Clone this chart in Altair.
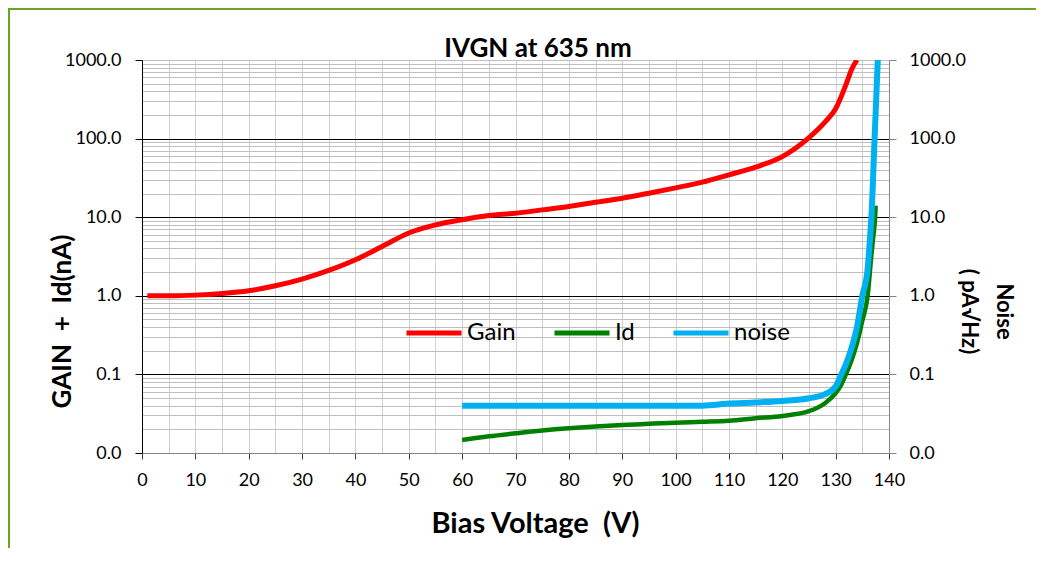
import altair as alt
import pandas as pd

# ---- data ----
gain_v = [1, 5, 10, 15, 20, 25, 30, 35, 40, 45, 50, 55, 60, 65, 70, 75, 80, 85, 90,
          95, 100, 105, 110, 115, 120, 125, 128, 130, 132, 133, 134]
gain = [1.00, 1.00, 1.02, 1.07, 1.16, 1.34, 1.63, 2.1, 2.87, 4.25, 6.3, 8.0, 9.3, 10.5,
        11.2, 12.4, 13.7, 15.5, 17.4, 20.2, 23.6, 27.9, 34.6, 43.4, 59.0, 103.0, 162.0,
        240.0, 500.0, 760.0, 1000.0]

id_v = [60, 65, 70, 75, 80, 85, 90, 95, 100, 105, 110, 115, 120, 125, 128, 130, 131,
        132, 133, 134, 135, 136, 136.7, 137.1, 137.4, 137.5]
id_nA = [0.0146, 0.0163, 0.0178, 0.0193, 0.0206, 0.0217, 0.0227, 0.0235, 0.0243, 0.025,
         0.0258, 0.0277, 0.0296, 0.034, 0.043, 0.0576, 0.073, 0.103, 0.153, 0.25, 0.48,
         1.0, 3.3, 6.0, 10.0, 14.0]

noise_v = [60, 70, 80, 90, 100, 105, 110, 115, 120, 125, 128, 130, 131, 132, 133, 134,
           135, 136, 136.4, 136.7, 137.3, 137.9]
noise = [0.040, 0.040, 0.040, 0.040, 0.040, 0.040, 0.0425, 0.044, 0.046, 0.0497, 0.056,
         0.070, 0.098, 0.139, 0.22, 0.40, 1.0, 2.2, 5.0, 10.0, 100.0, 1000.0]

series_names = ["Gain", "Id", "noise"]
series_colors = ["#ff0000", "#008000", "#00b0f0"]

x_ticks = list(range(0, 141, 5))
y_ticks = sorted(set([round(k * 10.0 ** e, 6) for e in range(-2, 3) for k in range(1, 10)] + [1000.0]))

NB = "\u00a0"
chart_title = "IVGN at 635 nm"
x_title = f"Bias Voltage {NB}(V)"
y_left_title = f"GAIN {NB}+{NB} Id(nA)"
y_right_title = ["Noise", "( pA\u221aHz)"]

FONT = "Lato"

df_gain = pd.DataFrame({"v": gain_v, "y": gain, "s": "Gain"})
df_id = pd.DataFrame({"v": id_v, "y": id_nA, "s": "Id"})
df_noise = pd.DataFrame({"v": noise_v, "y": noise, "s": "noise"})

DEC = "abs(log(datum.value)/LN10 - round(log(datum.value)/LN10)) < 0.000001"

color = alt.Color(
    "s:N",
    scale=alt.Scale(domain=series_names, range=series_colors),
    legend=alt.Legend(
        title=None, orient="none", legendX=262, legendY=243, direction="horizontal",
        symbolType="stroke", symbolSize=3025, symbolStrokeWidth=5,
        labelFont=FONT, labelFontSize=24, labelColor="black", labelOffset=3,
        columnPadding=28, padding=0,
    ),
)

xenc = alt.X(
    "v:Q",
    scale=alt.Scale(domain=[0, 140], nice=False, zero=False),
    axis=alt.Axis(
        values=x_ticks,
        labelExpr="datum.value % 10 === 0 ? datum.value : ''",
        tickOpacity={"condition": {"test": "datum.value % 10 === 0", "value": 1}, "value": 0},
        tickColor="#404040", tickSize=6, labelPadding=12,
        domainColor="#868686", gridColor="#d0d0d0",
        title=x_title, titleFontSize=29, titleFontWeight="bold",
        titleX=393, titleY=70, titleBaseline="middle",
    ),
)

yscale = alt.Scale(type="log", domain=[0.01, 1000], nice=False)

yleft = alt.Y(
    "y:Q",
    scale=yscale,
    axis=alt.Axis(
        values=y_ticks,
        labelExpr=f"({DEC}) ? format(datum.value, '.1f') : ''",
        tickOpacity={"condition": {"test": DEC, "value": 1}, "value": 0},
        tickColor="black", tickSize=7, labelPadding=14,
        domainColor="black",
        gridColor={"condition": {"test": f"({DEC}) && datum.value > 0.011 && datum.value < 999",
                                 "value": "black"}, "value": "#bfbfbf"},
        title=y_left_title, titleFontSize=26, titleFontWeight="bold",
        titleAngle=270, titleX=-80, titleY=261, titleBaseline="middle",
    ),
)

yright = alt.Y(
    "y:Q",
    scale=yscale,
    axis=alt.Axis(
        orient="right",
        values=y_ticks,
        labelExpr=f"({DEC}) ? format(datum.value, '.1f') : ''",
        tickOpacity={"condition": {"test": DEC, "value": 1}, "value": 0},
        tickColor="#868686", tickSize=7, labelPadding=13,
        domainColor="#868686", grid=False,
        title=y_right_title, titleFontSize=22, titleFontWeight="bold",
        titleAngle=90, titleX=114, titleY=251, titleBaseline="middle", titleLineHeight=35,
    ),
)

border = alt.Chart(pd.DataFrame({"a": [0]})).mark_rect(
    fillOpacity=0, stroke="#6aa520", strokeWidth=2
).encode(
    x=alt.value(-133), x2=alt.value(1000), y=alt.value(-51), y2=alt.value(700)
)

title_text = alt.Chart(pd.DataFrame({"t": [chart_title]})).mark_text(
    font=FONT, fontSize=26, fontWeight="bold", color="black", align="center", baseline="alphabetic"
).encode(x=alt.value(396), y=alt.value(-3), text="t:N")

gain_line = alt.Chart(df_gain).mark_line(strokeWidth=5, interpolate="monotone", clip=True).encode(
    x=xenc, y=yleft, color=color
)
id_line = alt.Chart(df_id).mark_line(strokeWidth=4.5, interpolate="monotone", clip=True).encode(
    x=xenc, y=yleft, color=color
)
noise_line = alt.Chart(df_noise).mark_line(strokeWidth=6, interpolate="monotone", clip=True).encode(
    x=xenc, y=yright, color=color
)

left = alt.layer(border, title_text, gain_line, id_line)

chart = alt.layer(left, noise_line).resolve_scale(y="independent").properties(
    width=747, height=393,
    autosize=alt.AutoSizeParams(type="none"),
    padding={"left": 134, "top": 52, "right": 147, "bottom": 95},
).configure_view(strokeWidth=0).configure_axis(
    labelFont=FONT, titleFont=FONT, labelFontSize=18, labelColor="black", titleColor="black",
    labelFlush=False, labelOverlap=False,
)

chart.save("out.html", embed_options={"renderer": "svg", "actions": False})
